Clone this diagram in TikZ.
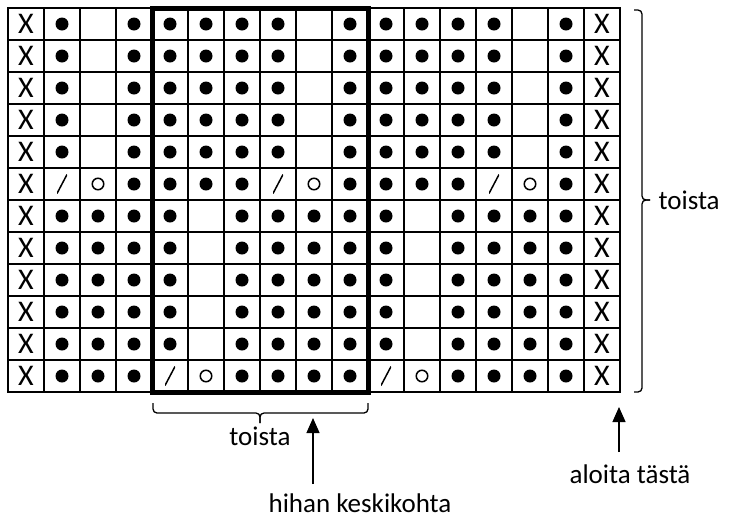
\documentclass[tikz,border=0pt]{standalone}
\usepackage{fontspec}
\setmainfont{Carlito}
\usetikzlibrary{positioning, arrows.meta, calc}

\begin{document}
\begin{tikzpicture}[
    x=1pt, y=-1pt,
    every node/.style={font=\fontsize{27}{31}\selectfont},
    gridline/.style={line width=2pt},
    frame/.style={line width=5pt},
    cell x/.style={inner sep=0pt, font=\fontsize{30}{30}\selectfont},
    cell p/.style={circle, fill, inner sep=0pt, minimum size=13pt},
    cell o/.style={circle, draw, line width=1.5pt, inner sep=0pt, minimum size=11.5pt},
    cell k/.style={inner sep=0pt, minimum width=10pt, minimum height=19pt,
      path picture={\draw[line width=1.5pt] (path picture bounding box.south west) -- (path picture bounding box.north east);}},
    cell b/.style={inner sep=0pt},
    bracket/.style={line width=1.3pt, rounded corners=4pt},
    arrow/.style={-{Triangle[length=15pt, width=13pt]}, line width=1.3pt}
  ]
  \useasboundingbox (0,0) rectangle (729,523);

  % chart cells, top row first
  \foreach \r/\pattern in {
      1/{x,p,b,p,p,p,p,p,b,p,p,p,p,p,b,p,x},
      2/{x,p,b,p,p,p,p,p,b,p,p,p,p,p,b,p,x},
      3/{x,p,b,p,p,p,p,p,b,p,p,p,p,p,b,p,x},
      4/{x,p,b,p,p,p,p,p,b,p,p,p,p,p,b,p,x},
      5/{x,p,b,p,p,p,p,p,b,p,p,p,p,p,b,p,x},
      6/{x,k,o,p,p,p,p,k,o,p,p,p,p,k,o,p,x},
      7/{x,p,p,p,p,b,p,p,p,p,p,b,p,p,p,p,x},
      8/{x,p,p,p,p,b,p,p,p,p,p,b,p,p,p,p,x},
      9/{x,p,p,p,p,b,p,p,p,p,p,b,p,p,p,p,x},
      10/{x,p,p,p,p,b,p,p,p,p,p,b,p,p,p,p,x},
      11/{x,p,p,p,p,b,p,p,p,p,p,b,p,p,p,p,x},
      12/{x,p,p,p,k,o,p,p,p,p,k,o,p,p,p,p,x}}
    \foreach \s [count=\c] in \pattern
      \node[cell \s] (c-\r-\c) at (36*\c-10, 32*\r-8) {\if x\s X\fi};

  % grid
  \foreach \c in {0,...,17}
    \draw[gridline] (8+36*\c, 8) -- (8+36*\c, 392);
  \foreach \r in {0,...,12}
    \draw[gridline] (8, 8+32*\r) -- (620, 8+32*\r);
  \draw[gridline] (8,8) rectangle (620,392);

  % repeat frame
  \coordinate (rep-nw) at (152,8);
  \coordinate (rep-se) at (368,392);
  \draw[frame] (rep-nw) rectangle (rep-se);

  % right bracket
  \coordinate (rb-top) at (634,10);
  \coordinate (rb-bot) at (634,392);
  \coordinate (rb-mid) at (642,200);
  \coordinate (rb-tip) at (650,200);
  \draw[bracket] (rb-top) -| (rb-mid) -- (rb-tip);
  \draw[bracket] (rb-bot) -| (rb-mid) -- (rb-tip);
  \node[anchor=west, xshift=5pt] (rows-label) at (rb-tip) {toista};

  % bottom bracket
  \coordinate (bb-left) at (153,403);
  \coordinate (bb-right) at (368,403);
  \coordinate (bb-mid) at (260,413);
  \coordinate (bb-tip) at (260,423);
  \draw[bracket] (bb-left) |- (bb-mid) -- (bb-tip);
  \draw[bracket] (bb-right) |- (bb-mid) -- (bb-tip);
  \node[below=0pt of bb-tip] (cols-label) {toista};

  % arrows
  \coordinate (mid-col) at (313,418);
  \coordinate (mid-foot) at (313,484);
  \node (mid-label) at (360,503) {hihan keskikohta};
  \draw[arrow] (mid-foot) -- (mid-col);

  \coordinate (start-col) at (619,407);
  \coordinate (start-foot) at (619,452);
  \node (start-label) at (630,474) {aloita tästä};
  \draw[arrow] (start-foot) -- (start-col);
\end{tikzpicture}
\end{document}
